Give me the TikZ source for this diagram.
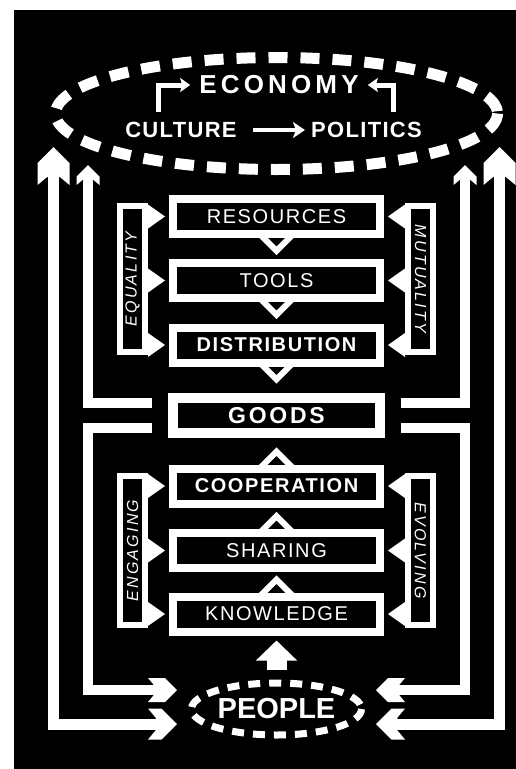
\documentclass[tikz,border=0pt]{standalone}
\usepackage{fontspec}
\setmainfont{Liberation Sans}
\newfontfamily\widefont[LetterSpace=16]{Liberation Sans}
\newfontfamily\barfont[LetterSpace=14]{Liberation Sans}
\newfontfamily\boxfont[LetterSpace=8]{Liberation Sans}
\newfontfamily\goodsfont[LetterSpace=12]{Liberation Sans}
\newfontfamily\titlefont[LetterSpace=6]{Liberation Sans}
\usetikzlibrary{arrows.meta,calc}
\begin{document}
\begin{tikzpicture}[x=1pt,y=-1pt,
	boxnode/.style={draw=white, line width=8pt, minimum width=207pt, minimum height=35pt, inner sep=0pt, text=white, font=\boxfont\fontsize{20}{24}\selectfont},
	boldbox/.style={boxnode, font=\boxfont\bfseries\fontsize{20}{24}\selectfont},
	goodsnode/.style={boxnode, line width=10pt, font=\goodsfont\bfseries\fontsize{23}{27}\selectfont},
	barnode/.style={draw=white, line width=6pt, minimum height=25pt, inner sep=0pt, text=white, font=\barfont\itshape\fontsize{16}{19}\selectfont},
	headtext/.style={text=white, inner sep=0pt, font=\titlefont\bfseries\fontsize{22}{26}\selectfont},
	ring/.style={draw=white, line width=11pt, dash pattern=on 19pt off 13pt},
	notch/.style={draw=white, line width=6pt},
	flow/.style={draw=white, line width=10pt},
	pics/head/.style 2 args={code={\fill[white] (0,0) -- (#1,#1) -- (#1,#2) -- ({0.4*#1},{#2-0.5*#1}) -- ({-0.4*#1},{#2-0.5*#1}) -- (-#1,#2) -- (-#1,#1) -- cycle;}}
	]
		\useasboundingbox (0,0) rectangle (516,769);
		\fill[white] (0,0) rectangle (516,769);
		\fill[black] (14,10) rectangle (516,769);
		
		\coordinate (econ) at (276.5,113.5);
		\draw[ring] (econ) ellipse [x radius=221, y radius=56];
		\node[headtext, font=\widefont\bfseries\fontsize{26}{31}\selectfont] (eco) at (279,85) {ECONOMY};
		\node[headtext] (cul) at (181,130) {CULTURE};
		\node[headtext] (pol) at (366.5,130) {POLITICS};
		\draw[white, line width=3.5pt, -{Stealth[length=12pt,width=16pt,inset=3pt]}] ($(cul.east)+(16,0)$) -- ($(pol.west)+(-6,0)$);
		\draw[white, line width=5pt, -{Stealth[length=10pt,width=14pt,inset=2pt]}] ($(cul.north)+(-23,-10)$) |- ($(eco.west)+(-9,0)$);
		\draw[white, line width=5pt, -{Stealth[length=10pt,width=14pt,inset=2pt]}] ($(pol.north)+(26.5,-10)$) |- ($(eco.east)+(9,0)$);
		
		\node[boxnode] (res) at (276.5,216.5) {RESOURCES};
		\node[boxnode] (tools) at (276.5,280.5) {TOOLS};
		\node[boldbox] (distr) at (276.5,345) {DISTRIBUTION};
		\node[goodsnode] (goods) at (276.5,415.5) {GOODS};
		\node[boldbox] (coop) at (276.5,486) {COOPERATION};
		\node[boxnode] (share) at (276.5,550.5) {SHARING};
		\node[boxnode] (know) at (276.5,614) {KNOWLEDGE};
		\foreach \bx in {res,tools,distr}
			\draw[notch] ($(\bx.south)+(-17,-4)$) -- ($(\bx.south)+(0,12.8)$) -- ($(\bx.south)+(17,-4)$);
		\foreach \bx in {coop,share,know}
			\draw[notch] ($(\bx.north)+(-17,4)$) -- ($(\bx.north)+(0,-12.8)$) -- ($(\bx.north)+(17,4)$);
		
		\node[barnode, rotate=90, minimum width=146pt] (eq) at (132.5,279) {EQUALITY};
		\node[barnode, rotate=-90, minimum width=146pt] (mu) at (420.5,279) {MUTUALITY};
		\node[barnode, rotate=90, minimum width=149pt] (eng) at (132.5,550.5) {ENGAGING};
		\node[barnode, rotate=-90, minimum width=149pt] (evo) at (420.5,550.5) {EVOLVING};
		\foreach \bx in {res,tools,distr}{
			\fill[white] ($(eq.south |- \bx.west)+(0,-12)$) -- ($(\bx.west)+(-4,0)$) -- ($(eq.south |- \bx.west)+(0,12)$) -- cycle;
			\fill[white] ($(mu.south |- \bx.east)+(0,-12)$) -- ($(\bx.east)+(4,0)$) -- ($(mu.south |- \bx.east)+(0,12)$) -- cycle;
		}
		\foreach \bx in {coop,share,know}{
			\fill[white] ($(eng.south |- \bx.west)+(0,-12)$) -- ($(\bx.west)+(-4,0)$) -- ($(eng.south |- \bx.west)+(0,12)$) -- cycle;
			\fill[white] ($(evo.south |- \bx.east)+(0,-12)$) -- ($(\bx.east)+(4,0)$) -- ($(evo.south |- \bx.east)+(0,12)$) -- cycle;
		}
		
		\coordinate (peoplec) at (276.5,709);
		\draw[white, line width=7pt, dash pattern=on 12pt off 9pt] (peoplec) ellipse [x radius=85, y radius=26];
		\node[text=white, inner sep=0pt, font=\bfseries\fontsize{29}{34}\selectfont] (people) at (peoplec) {PEOPLE};
		\draw[white, line width=20pt, -{Triangle[length=20pt,width=40pt]}] ($(peoplec)+(0,-39)$) -- ($(know.south)+(0,5)$);
		
		\coordinate (upL) at (53.5,147);
		\coordinate (upLi) at (88,165);
		\coordinate (upR) at (499.5,147);
		\coordinate (upRi) at (465,165);
		\coordinate (inL) at (177,690);
		\coordinate (inLo) at (177,724);
		\coordinate (inR) at (376,690);
		\coordinate (inRo) at (376,724);
		\coordinate (gL1) at ($(goods.west)+(-16,-12.5)$);
		\coordinate (gL2) at ($(goods.west)+(-16,12.5)$);
		\coordinate (gR1) at ($(goods.east)+(16,-12.5)$);
		\coordinate (gR2) at ($(goods.east)+(16,12.5)$);
		\draw[flow, line width=11pt, shorten <=15pt, shorten >=15pt] (upL) -- (upL |- inLo) -- (inLo);
		\draw[flow, line width=11pt, shorten <=15pt, shorten >=15pt] (upR) -- (upR |- inRo) -- (inRo);
		\draw[flow, shorten >=10pt] (gL1) -| (upLi);
		\draw[flow, shorten >=10pt] (gR1) -| (upRi);
		\draw[flow, shorten >=12pt] (gL2) -- (gL2 -| upLi) |- (inL);
		\draw[flow, shorten >=12pt] (gR2) -- (gR2 -| upRi) |- (inR);
		\pic at (upL) {head={16}{38}};
		\pic at (upR) {head={16}{38}};
		\pic at (upLi) {head={11.5}{20}};
		\pic at (upRi) {head={11.5}{20}};
		\pic[rotate=-90] at (inL) {head={12}{29}};
		\pic[rotate=-90] at (inLo) {head={15.5}{29}};
		\pic[rotate=90] at (inR) {head={12}{29}};
		\pic[rotate=90] at (inRo) {head={15.5}{29}};
		
\end{tikzpicture}
\end{document}
